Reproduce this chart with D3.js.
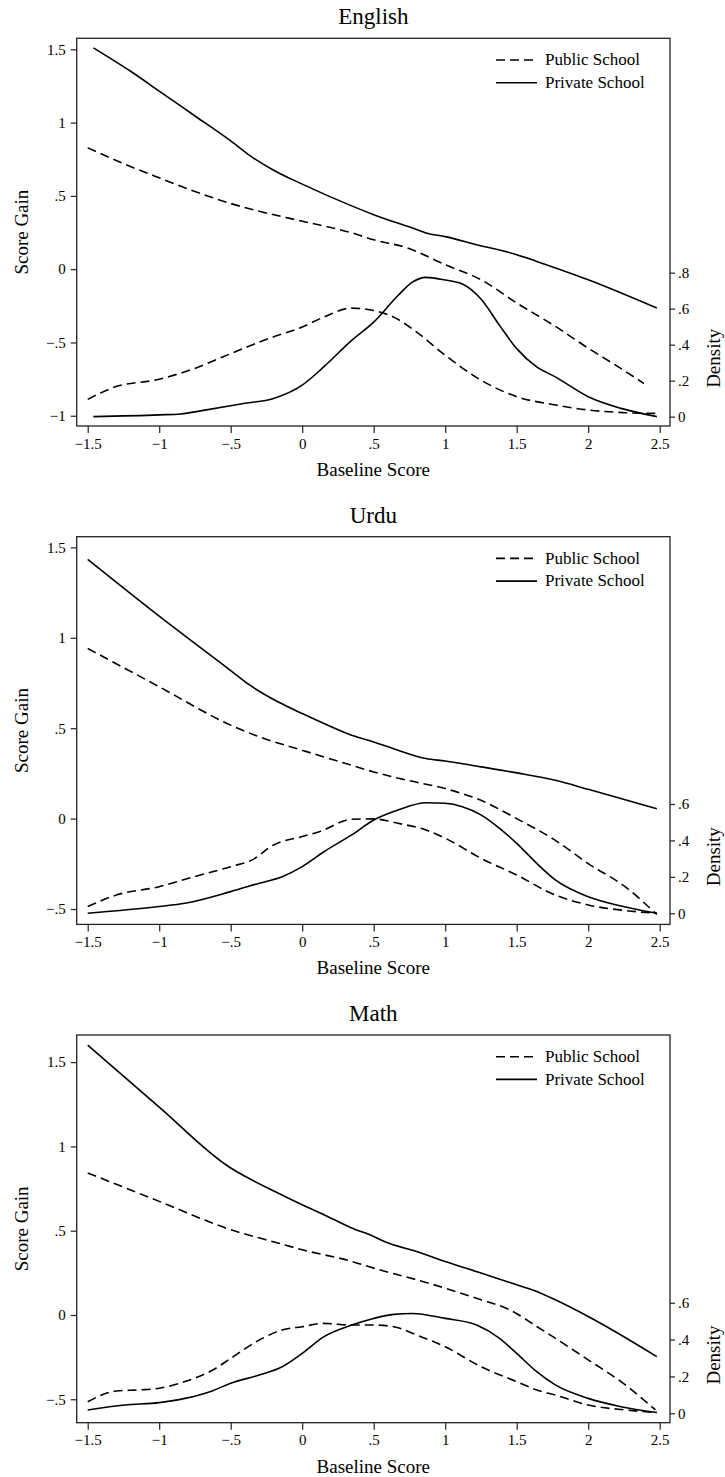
<!DOCTYPE html>
<html>
<head>
<meta charset="utf-8">
<script src="https://cdn.jsdelivr.net/npm/d3@7"></script>
<style>
  html, body { margin: 0; padding: 0; background: #fff; }
  svg { display: block; }
</style>
</head>
<body>
<svg id="chart" width="725" height="1477"></svg>
<script>
// ---------------- DATA ----------------
const panelTitles = ["English", "Urdu", "Math"];
const seriesNames = ["Public School", "Private School"];
const xTicks = [-1.5, -1, -0.5, 0, 0.5, 1, 1.5, 2, 2.5];
const gainTicks = [
  [-1, -0.5, 0, 0.5, 1, 1.5],
  [-0.5, 0, 0.5, 1, 1.5],
  [-0.5, 0, 0.5, 1, 1.5]
];
const densityTicks = [
  [0, 0.2, 0.4, 0.6, 0.8],
  [0, 0.2, 0.4, 0.6],
  [0, 0.2, 0.4, 0.6]
];

// English
const englishPublicGain = [[-1.5,0.828],[-1.25,0.72],[-1,0.623],[-0.75,0.53],[-0.5,0.448],[-0.3,0.395],[0,0.327],[0.35,0.247],[0.5,0.2],[0.735,0.145],[1,0.03],[1.25,-0.072],[1.5,-0.231],[1.77,-0.39],[2,-0.539],[2.2,-0.66],[2.39,-0.78]];
const englishPrivateGain = [[-1.46,1.51],[-1.2,1.35],[-1,1.215],[-0.75,1.045],[-0.5,0.875],[-0.366,0.775],[-0.2,0.675],[0,0.58],[0.35,0.43],[0.5,0.372],[0.8,0.27],[0.865,0.247],[1,0.222],[1.22,0.167],[1.5,0.099],[1.64,0.053],[2,-0.072],[2.48,-0.265]];
const englishPublicDensity = [[-1.5,0.096],[-1.32,0.162],[-1,0.208],[-0.755,0.267],[-0.5,0.35],[-0.237,0.433],[0,0.498],[0.15,0.553],[0.346,0.603],[0.5,0.59],[0.64,0.553],[0.8,0.47],[1,0.341],[1.25,0.203],[1.5,0.111],[1.77,0.065],[2,0.037],[2.26,0.022],[2.48,0.018]];
const englishPrivateDensity = [[-1.46,0],[-1,0.01],[-0.85,0.015],[-0.69,0.035],[-0.4,0.074],[-0.2,0.101],[0,0.175],[0.15,0.276],[0.346,0.424],[0.5,0.525],[0.67,0.673],[0.77,0.747],[0.865,0.774],[1,0.759],[1.12,0.737],[1.25,0.654],[1.38,0.507],[1.5,0.378],[1.64,0.276],[1.77,0.221],[2,0.111],[2.23,0.046],[2.48,0]];

// Urdu
const urduPublicGain = [[-1.5,0.941],[-1,0.729],[-0.5,0.517],[-0.3,0.452],[0,0.378],[0.152,0.341],[0.346,0.295],[0.5,0.258],[0.735,0.212],[1,0.166],[1.25,0.101],[1.5,0],[1.77,-0.12],[2,-0.249],[2.26,-0.378],[2.48,-0.53]];
const urduPrivateGain = [[-1.5,1.434],[-1,1.12],[-0.5,0.819],[-0.366,0.738],[-0.17,0.646],[0,0.581],[0.152,0.526],[0.346,0.461],[0.5,0.424],[0.67,0.378],[0.865,0.332],[1,0.319],[1.25,0.286],[1.5,0.253],[1.77,0.212],[2,0.162],[2.48,0.055]];
const urduPublicDensity = [[-1.5,0.037],[-1.3,0.1],[-1,0.146],[-0.755,0.201],[-0.5,0.256],[-0.35,0.293],[-0.2,0.375],[0,0.421],[0.12,0.448],[0.346,0.516],[0.5,0.518],[0.67,0.494],[0.865,0.457],[1,0.412],[1.25,0.302],[1.5,0.21],[1.77,0.1],[2,0.046],[2.26,0.015],[2.48,0]];
const urduPrivateDensity = [[-1.5,0],[-1,0.037],[-0.82,0.055],[-0.5,0.119],[-0.3,0.165],[-0.14,0.201],[0,0.256],[0.152,0.338],[0.346,0.43],[0.5,0.512],[0.67,0.567],[0.865,0.607],[1,0.604],[1.12,0.585],[1.25,0.54],[1.38,0.466],[1.5,0.384],[1.64,0.274],[1.77,0.183],[2,0.091],[2.23,0.04],[2.48,0]];

// Math
const mathPublicGain = [[-1.5,0.843],[-1,0.674],[-0.5,0.506],[-0.17,0.427],[0,0.387],[0.346,0.318],[0.5,0.278],[0.8,0.209],[1,0.159],[1.25,0.09],[1.45,0.031],[1.64,-0.068],[2,-0.266],[2.26,-0.415],[2.47,-0.563]];
const mathPrivateGain = [[-1.5,1.601],[-1,1.233],[-0.5,0.872],[-0.4,0.823],[-0.17,0.724],[0,0.654],[0.152,0.595],[0.346,0.516],[0.5,0.466],[0.57,0.437],[0.8,0.377],[1,0.318],[1.25,0.249],[1.5,0.179],[1.64,0.14],[1.77,0.09],[2,-0.009],[2.48,-0.247]];
const mathPublicDensity = [[-1.5,0.063],[-1.3,0.121],[-1.14,0.127],[-1,0.136],[-0.82,0.172],[-0.625,0.235],[-0.5,0.298],[-0.3,0.398],[-0.14,0.452],[0,0.47],[0.152,0.488],[0.346,0.479],[0.5,0.479],[0.64,0.47],[0.8,0.425],[1,0.361],[1.25,0.253],[1.5,0.172],[1.64,0.127],[1.77,0.099],[2,0.045],[2.26,0.018],[2.48,0.004]];
const mathPrivateDensity = [[-1.5,0.018],[-1.24,0.045],[-1,0.058],[-0.82,0.081],[-0.625,0.123],[-0.5,0.163],[-0.3,0.208],[-0.14,0.253],[0,0.325],[0.152,0.416],[0.346,0.479],[0.5,0.515],[0.64,0.537],[0.77,0.542],[1,0.515],[1.22,0.479],[1.38,0.407],[1.5,0.325],[1.64,0.226],[1.77,0.154],[2,0.081],[2.23,0.036],[2.48,0.004]];

const panelGain = [
  [englishPublicGain, englishPrivateGain],
  [urduPublicGain, urduPrivateGain],
  [mathPublicGain, mathPrivateGain]
];
const panelDensity = [
  [englishPublicDensity, englishPrivateDensity],
  [urduPublicDensity, urduPrivateDensity],
  [mathPublicDensity, mathPrivateDensity]
];

// ---------------- LAYOUT ----------------
const FONT = "'Liberation Serif', 'DejaVu Serif', serif";
const frameLeft = 76.7, frameW = 593.3, frameH = 387.7;
const frameTops = [38.3, 536.7, 1035];
const xDomain = [-1.577, 2.572];
const gainDomains = [[-1.070, 1.575], [-0.585, 1.559], [-0.639, 1.661]];
const densityDomains = [[-0.052, 2.102], [-0.061, 2.067], [-0.051, 2.053]];
const dashes = ["9,5", null];

const fmt = d => {
  let s = String(+d.toFixed(2));
  s = s.replace(/^(-?)0\./, "$1.");
  return s.replace("-", "\u2212");
};

const svg = d3.select("#chart").attr("font-family", FONT).style("font-family", FONT);

panelTitles.forEach((title, i) => {
  const g = svg.append("g").attr("transform", `translate(${frameLeft},${frameTops[i]})`);
  const x = d3.scaleLinear().domain(xDomain).range([0, frameW]);
  const yL = d3.scaleLinear().domain(gainDomains[i]).range([frameH, 0]);
  const yR = d3.scaleLinear().domain(densityDomains[i]).range([frameH, 0]);

  const txt = sel => sel.attr("font-family", FONT).style("font-family", FONT).attr("fill", "#000");

  // title
  g.append("text").attr("x", frameW / 2).attr("y", -14)
    .attr("text-anchor", "middle").style("font-size", "23px").text(title).call(txt);

  // axes
  const ax = g.append("g").attr("transform", `translate(0,${frameH})`)
    .call(d3.axisBottom(x).tickValues(xTicks).tickFormat(fmt).tickSize(7).tickPadding(5));
  const al = g.append("g")
    .call(d3.axisLeft(yL).tickValues(gainTicks[i]).tickFormat(fmt).tickSize(6).tickPadding(5));
  const ar = g.append("g").attr("transform", `translate(${frameW},0)`)
    .call(d3.axisRight(yR).tickValues(densityTicks[i]).tickFormat(fmt).tickSize(5).tickPadding(3));
  [ax, al, ar].forEach(a => {
    a.attr("font-family", FONT).attr("font-size", 15);
    a.select(".domain").remove();
    a.selectAll("line").attr("stroke", "#222").attr("stroke-width", 1.2);
    a.selectAll("text").style("font-size", "15px").call(txt);
  });

  // frame
  g.append("rect").attr("x", 0).attr("y", 0).attr("width", frameW).attr("height", frameH)
    .attr("fill", "none").attr("stroke", "#222").attr("stroke-width", 1.3);

  // axis titles
  g.append("text").attr("x", frameW / 2).attr("y", frameH + 50)
    .attr("text-anchor", "middle").style("font-size", "19px").text("Baseline Score").call(txt);
  g.append("text").attr("transform", `translate(${28.5 - frameLeft},${frameH / 2}) rotate(-90)`)
    .attr("text-anchor", "middle").style("font-size", "19px").text("Score Gain").call(txt);
  g.append("text").attr("transform", `translate(${720 - frameLeft},320) rotate(-90)`)
    .attr("text-anchor", "middle").style("font-size", "19px").text("Density").call(txt);

  // lines
  const lineL = d3.line().x(d => x(d[0])).y(d => yL(d[1])).curve(d3.curveMonotoneX);
  const lineR = d3.line().x(d => x(d[0])).y(d => yR(d[1])).curve(d3.curveMonotoneX);
  panelGain[i].forEach((s, k) => {
    g.append("path").attr("d", lineL(s)).attr("fill", "none").attr("stroke", "#000")
      .attr("stroke-width", 1.6).attr("stroke-dasharray", dashes[k]);
  });
  panelDensity[i].forEach((s, k) => {
    g.append("path").attr("d", lineR(s)).attr("fill", "none").attr("stroke", "#000")
      .attr("stroke-width", 1.6).attr("stroke-dasharray", dashes[k]);
  });

  // legend
  const lg = g.append("g");
  seriesNames.forEach((name, k) => {
    const ly = 21.7 + k * 22.7;
    lg.append("line").attr("x1", 496 - frameLeft).attr("x2", 537 - frameLeft)
      .attr("y1", ly).attr("y2", ly).attr("stroke", "#000").attr("stroke-width", 1.6)
      .attr("stroke-dasharray", dashes[k]);
    lg.append("text").attr("x", 545 - frameLeft).attr("y", ly + 5.2)
      .style("font-size", "17px").text(name).call(txt);
  });
});
</script>
</body>
</html>
